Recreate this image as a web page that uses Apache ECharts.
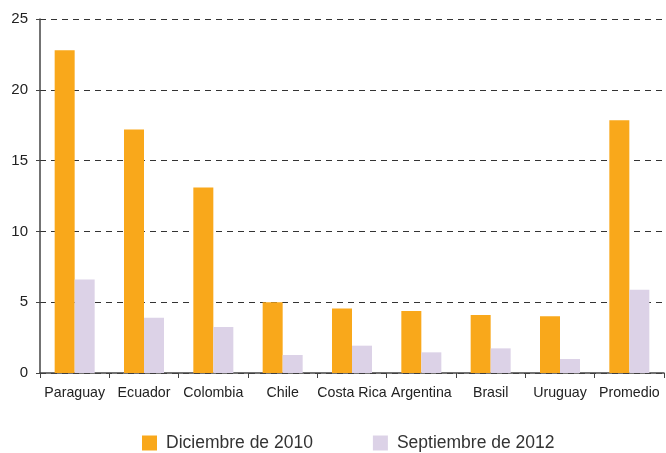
<!DOCTYPE html>
<html>
<head>
<meta charset="utf-8">
<script src="https://cdn.jsdelivr.net/npm/echarts@6/dist/echarts.min.js"></script>
<style>
html, body { margin: 0; padding: 0; background: #fff; }
#main { width: 666px; height: 453px; }
</style>
</head>
<body>
<div id="main"></div>
<script>
var paises = ['Paraguay', 'Ecuador', 'Colombia', 'Chile', 'Costa Rica', 'Argentina', 'Brasil', 'Uruguay', 'Promedio'];
var dic2010 = [22.8, 17.2, 13.1, 5.0, 4.55, 4.37, 4.1, 4.0, 17.85];
var sep2012 = [6.6, 3.9, 3.25, 1.27, 1.93, 1.46, 1.74, 0.99, 5.88];
var nombres = ['Diciembre de 2010', 'Septiembre de 2012'];

var myChart = echarts.init(document.getElementById('main'));
var fuente = '"Liberation Sans", Arial, sans-serif';
var option = {
	animation : false,
	textStyle : { fontFamily : fuente },
	grid : { left : 40, right : 2, top : 19, bottom : 80 },
	legend : {
		top : 434,
		left : 142,
		padding : 0,
		itemWidth : 15,
		itemHeight : 15,
		itemGap : 60,
		icon : 'rect',
		textStyle : { fontSize : 17.5, color : '#333', fontFamily : fuente, padding : [0, 0, 0, 4] },
		data : nombres
	},
	xAxis : {
		type : 'category',
		data : paises,
		axisLine : { lineStyle : { color : '#444', width : 1.5 } },
		axisTick : { show : true, length : 5, lineStyle : { color : '#444' } },
		axisLabel : { fontSize : 14.2, color : '#222', margin : 13, interval : 0 }
	},
	yAxis : {
		type : 'value',
		min : 0,
		max : 25,
		interval : 5,
		axisLine : { show : true, lineStyle : { color : '#444', width : 1.5 } },
		axisTick : { show : true, length : 4, lineStyle : { color : '#444' } },
		axisLabel : { fontSize : 15, color : '#222', margin : 12 },
		splitLine : { lineStyle : { color : '#333', type : [6, 5], width : 1 } }
	},
	series : [ {
		name : nombres[0],
		type : 'bar',
		data : dic2010,
		barWidth : 20,
		barGap : '0%',
		itemStyle : { color : '#F9A81B' }
	}, {
		name : nombres[1],
		type : 'bar',
		data : sep2012,
		barWidth : 20,
		itemStyle : { color : '#DCD2E7' }
	} ]
};
myChart.setOption(option);
</script>
</body>
</html>
